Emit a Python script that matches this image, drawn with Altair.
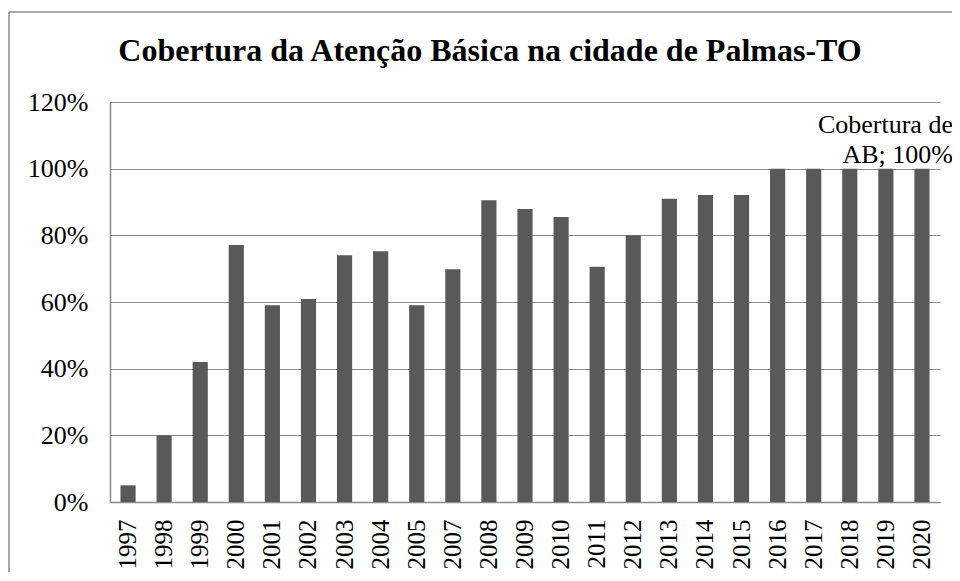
import altair as alt
import pandas as pd

years = ["1997", "1998", "1999", "2000", "2001", "2002", "2003", "2004", "2005",
         "2007", "2008", "2009", "2010", "2011", "2012", "2013", "2014", "2015",
         "2016", "2017", "2018", "2019", "2020"]
coverage = [0.05, 0.20, 0.42, 0.771, 0.59, 0.609, 0.74, 0.752, 0.59,
            0.698, 0.905, 0.879, 0.855, 0.706, 0.80, 0.91, 0.921, 0.921,
            1.0, 1.0, 1.0, 1.0, 1.0]
title_text = "Cobertura da Atenção Básica na cidade de Palmas-TO"
label_text = ["Cobertura de", "AB; 100%"]

df = pd.DataFrame({"ano": years, "cobertura": coverage})
df_label = pd.DataFrame({"ano": [years[-1]], "cobertura": [coverage[-1]],
                         "rotulo": [label_text]})
df_title = pd.DataFrame({"titulo": [title_text]})

FONT = "Liberation Serif"

x_enc = alt.X("ano:N", sort=years, title=None,
              scale=alt.Scale(paddingInner=0.58, paddingOuter=0.29),
              axis=alt.Axis(labelAngle=-90, labelFont=FONT, labelFontSize=25,
                            labelColor="#000000", labelPadding=17, ticks=False,
                            domainColor="#8c8c8c", grid=False))
y_enc = alt.Y("cobertura:Q", title=None,
              scale=alt.Scale(domain=[0, 1.2], nice=False),
              axis=alt.Axis(format=".0%", values=[0, 0.2, 0.4, 0.6, 0.8, 1.0, 1.2],
                            labelFont=FONT, labelFontSize=26, labelColor="#000000",
                            labelPadding=22, ticks=False, domainColor="#8c8c8c",
                            gridColor="#8c8c8c", gridWidth=1))

# outer chart frame (top and left edges, as seen in the reference)
frame_top = alt.Chart(df_title).mark_rule(stroke="#8c8c8c", strokeWidth=1.5).encode(
    x=alt.value(-101), x2=alt.value(900), y=alt.value(-90)
)
frame_left = alt.Chart(df_title).mark_rule(stroke="#8c8c8c", strokeWidth=1.5).encode(
    x=alt.value(-101), y=alt.value(-90), y2=alt.value(600)
)

title = alt.Chart(df_title).mark_text(
    font=FONT, fontSize=32, fontWeight="bold", align="center", baseline="alphabetic",
    color="#000000"
).encode(x=alt.value(380), y=alt.value(-41), text="titulo:N")

bars = alt.Chart(df).mark_bar(color="#595959").encode(x=x_enc, y=y_enc)

label = alt.Chart(df_label).mark_text(
    font=FONT, fontSize=26, align="right", baseline="alphabetic", dx=31, dy=-36,
    lineHeight=30, color="#000000"
).encode(x=alt.X("ano:N", sort=years), y="cobertura:Q", text="rotulo")

chart = alt.layer(frame_top, frame_left, title, bars, label).properties(
    width=830, height=400,
    padding={"left": 102, "top": 94, "right": 12, "bottom": 70},
    autosize=alt.AutoSizeParams(type="none"),
).configure_view(stroke=None).configure_axis(domainWidth=1.5)

chart.save("out.html", embed_options={"renderer": "svg", "actions": False})
